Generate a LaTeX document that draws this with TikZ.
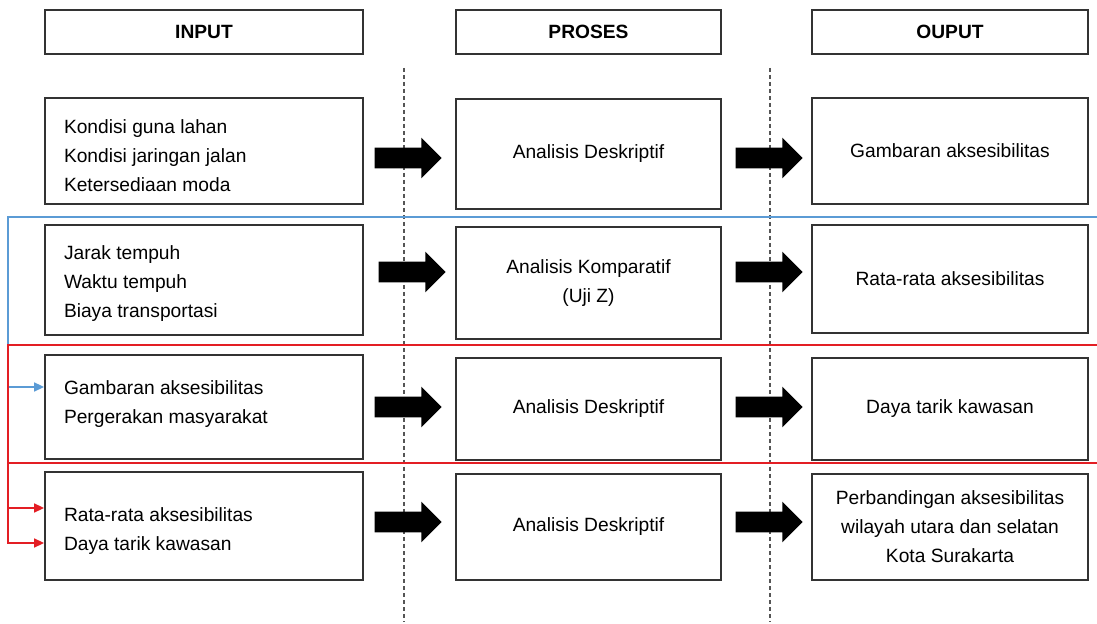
\documentclass[tikz,border=0pt]{standalone}
\usepackage{fontspec}
\setmainfont{Liberation Sans}
\usetikzlibrary{arrows.meta,positioning,shapes.arrows}
\definecolor{linkblue}{HTML}{5B9BD5}
\definecolor{linkred}{HTML}{E31E24}
\definecolor{boxline}{HTML}{333333}
\definecolor{sepgray}{HTML}{555555}
\newcommand{\nudge}[2]{\raisebox{#1}[\height][\depth]{\parbox{140pt}{#2}}}

\begin{document}
\begin{tikzpicture}[
          x=0.5pt, y=-0.5pt,
          box/.style = {draw=boxline, line width=0.9pt, inner sep=0pt,
                        align=center, font=\fontsize{9.6}{14.5}\selectfont},
          inbox/.style = {box, minimum width=159pt},
          prbox/.style = {box, minimum width=132.5pt},
          outbox/.style = {box, minimum width=138pt},
          head/.style = {minimum height=22pt, font=\fontsize{9.6}{14.5}\selectfont\bfseries},
          blk/.style = {single arrow, fill=black, draw=none, minimum height=33.5pt,
                        inner xsep=0pt, inner ysep=5pt, single arrow head extend=5pt,
                        single arrow head indent=0pt},
          sep/.style = {sepgray, line width=0.6pt, dash pattern=on 2pt off 1.5pt},
          bluelink/.style = {linkblue, line width=0.8pt},
          redlink/.style = {linkred, line width=0.8pt},
          tip/.style = {-{Triangle[length=5pt,width=4.5pt]}},
        ]
        \useasboundingbox (0,0) rectangle (1097,624);

        % separators
        \coordinate (s1t) at (404,68);  \coordinate (s1b) at (404,622);
        \coordinate (s2t) at (770,68);  \coordinate (s2b) at (770,622);
        \draw[sep] (s1t) -- (s1b);
        \draw[sep] (s2t) -- (s2b);

        % headers
        \node[inbox, head]  (hin)  at (204,32)   {INPUT};
        \node[prbox, head]  (hpr)  at (588.5,32) {PROSES};
        \node[outbox, head] (hout) at (950,32)   {OUPUT};

        % row 1
        \node[inbox, minimum height=53pt]  (in1)  at (204,151)   {\nudge{-2.5pt}{Kondisi guna lahan\\Kondisi jaringan jalan\\Ketersediaan moda}};
        \node[prbox, minimum height=55pt]  (pr1)  at (588.5,154) {Analisis Deskriptif};
        \node[outbox, minimum height=53pt] (out1) at (950,151)   {Gambaran aksesibilitas};
        \node[blk] (a1) at (403,158) {};
        \node[blk] (b1) at (764,158) {};

        % row 2
        \node[inbox, minimum height=55pt]  (in2)  at (204,280)   {\nudge{-2pt}{Jarak tempuh\\Waktu tempuh\\Biaya transportasi}};
        \node[prbox, minimum height=56pt]  (pr2)  at (588.5,283) {Analisis Komparatif\\(Uji Z)};
        \node[outbox, minimum height=54pt] (out2) at (950,279)   {Rata-rata aksesibilitas};
        \node[blk] (a2) at (407,272) {};
        \node[blk] (b2) at (764,272) {};

        % row 3
        \node[inbox, minimum height=52pt]  (in3)  at (204,407)   {\nudge{1.5pt}{Gambaran aksesibilitas\\Pergerakan masyarakat}};
        \node[prbox, minimum height=51pt]  (pr3)  at (588.5,409) {Analisis Deskriptif};
        \node[outbox, minimum height=51pt] (out3) at (950,409)   {Daya tarik kawasan};
        \node[blk] (a3) at (403,407) {};
        \node[blk] (b3) at (764,407) {};

        % row 4
        \node[inbox, minimum height=54pt]  (in4)  at (204,526)   {\nudge{-2.5pt}{Rata-rata aksesibilitas\\Daya tarik kawasan}};
        \node[prbox, minimum height=53pt]  (pr4)  at (588.5,527) {Analisis Deskriptif};
        \node[outbox, minimum height=53pt] (out4) at (950,527)   {Perbandingan aksesibilitas\\wilayah utara dan selatan\\Kota Surakarta};
        \node[blk] (a4) at (403,522) {};
        \node[blk] (b4) at (764,522) {};

        % feedback links
        \coordinate (bl)  at (1097,217);
        \coordinate (bt)  at (8,387);
        \coordinate (r1)  at (1097,345);
        \coordinate (r2)  at (1097,463);
        \coordinate (rt1) at (8,508);
        \coordinate (rt2) at (8,543);

        \draw[bluelink, tip] (bl) -| (bt) -- (bt -| in3.west);
        \draw[redlink, tip] (r1) -| (rt2) -- (rt2 -| in4.west);
        \draw[redlink] (r2) -- (r2 -| rt2);
        \draw[redlink, tip] (rt1) -- (rt1 -| in4.west);
      \end{tikzpicture}
\end{document}
